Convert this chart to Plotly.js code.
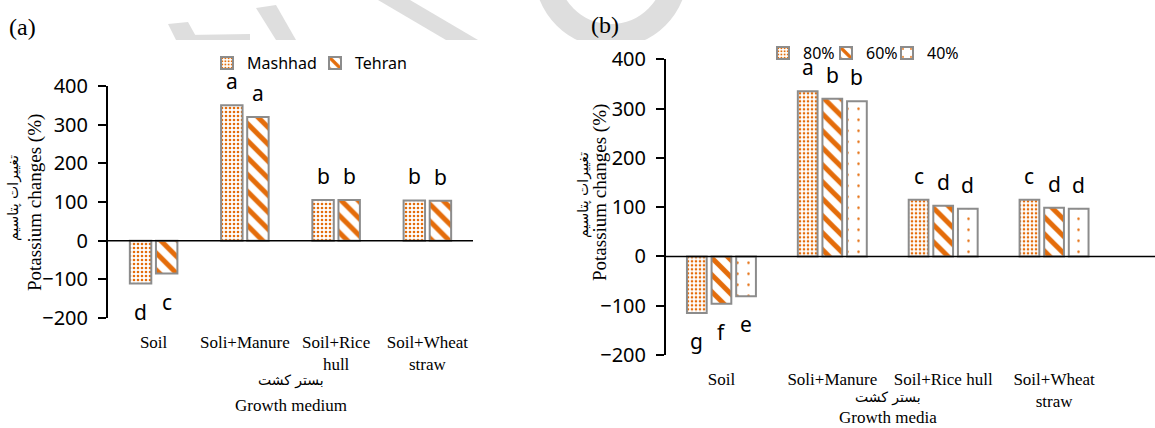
<!DOCTYPE html>
<html>
<head>
<meta charset="utf-8">
<script src="https://cdn.plot.ly/plotly-3.0.1.min.js"></script>
<style>html,body{margin:0;padding:0;background:#fff;}#chart{width:1155px;height:428px;}</style>
</head>
<body>
<div id="chart"></div>
<script>
// ---------- data ----------
const categoriesA = ['Soil', 'Soli+Manure', 'Soil+Rice<br>hull', 'Soil+Wheat<br>straw'];
const categoriesB = ['Soil', 'Soli+Manure', 'Soil+Rice hull', 'Soil+Wheat<br>straw'];

const mashhad = [-111, 350, 105, 104];
const tehran  = [-85, 320, 105, 103];
const lettersMashhad = ['d', 'a', 'b', 'b'];
const lettersTehran  = ['c', 'a', 'b', 'b'];

const p80 = [-115, 335, 115, 115];
const p60 = [-96, 320, 103, 99];
const p40 = [-81, 315, 97, 97];
const letters80 = ['g', 'a', 'c', 'c'];
const letters60 = ['f', 'b', 'd', 'd'];
const letters40 = ['e', 'b', 'd', 'd'];

const yTicks = [-200, -100, 0, 100, 200, 300, 400];

// ---------- layout helpers ----------
const W = 1155, H = 428;
const px = x => x / W;
const py = y => 1 - y / H;
const ORANGE = '#E46C0A';
const EDGE = '#8c8c8c';
const serif = 'Liberation Serif, "Times New Roman", DejaVu Sans, serif';
const sans = '"Noto Sans", "Open Sans", sans-serif';
const arabic = 'DejaVu Sans, sans-serif';

const patDense = {shape: '.', size: 4, solidity: 0.34, fgcolor: ORANGE, bgcolor: '#ffffff', fgopacity: 1};
const patStripe = {shape: '\\', size: 12, solidity: 0.42, fgcolor: ORANGE, bgcolor: '#ffffff', fgopacity: 1};
const patSparse = {shape: '.', size: 11, solidity: 0.04, fgcolor: ORANGE, bgcolor: '#ffffff', fgopacity: 1};

function mkBar(name, cats, vals, pat, n, j, step, width, xa, ya, legend) {
  return {
    type: 'bar', name: name, x: cats, y: vals,
    xaxis: xa, yaxis: ya, legend: legend,
    width: width,
    offset: (j - (n - 1) / 2) * step - width / 2,
    marker: {color: '#ffffff', pattern: pat, line: {color: EDGE, width: 2}},
    hoverinfo: 'x+y'
  };
}

const stepA = 0.286, widthA = 0.235;
const stepB = 0.222, widthB = 0.178;

const traces = [
  mkBar('Mashhad', categoriesA, mashhad, patDense, 2, 0, stepA, widthA, 'x', 'y', 'legend'),
  mkBar('Tehran', categoriesA, tehran, patStripe, 2, 1, stepA, widthA, 'x', 'y', 'legend2'),
  mkBar('80%', categoriesB, p80, patDense, 3, 0, stepB, widthB, 'x2', 'y2', 'legend3'),
  mkBar('60%', categoriesB, p60, patStripe, 3, 1, stepB, widthB, 'x2', 'y2', 'legend4'),
  mkBar('40%', categoriesB, p40, patSparse, 3, 2, stepB, widthB, 'x2', 'y2', 'legend5')
];

// ---------- letter annotations ----------
const annotations = [];
function addLetters(vals, letters, n, j, step, xref, yref) {
  vals.forEach((v, i) => {
    annotations.push({
      x: i + (j - (n - 1) / 2) * step, y: v, xref: xref, yref: yref,
      text: letters[i], showarrow: false,
      yanchor: 'middle', yshift: v >= 0 ? 24 : -28,
      font: {family: sans, size: 21, color: '#000'}
    });
  });
}
addLetters(mashhad, lettersMashhad, 2, 0, stepA, 'x', 'y');
addLetters(tehran, lettersTehran, 2, 1, stepA, 'x', 'y');
addLetters(p80, letters80, 3, 0, stepB, 'x2', 'y2');
addLetters(p60, letters60, 3, 1, stepB, 'x2', 'y2');
addLetters(p40, letters40, 3, 2, stepB, 'x2', 'y2');

// titles / panel labels
function txt(text, x, y, size, family, angle) {
  annotations.push({
    text: text, x: px(x), y: py(y), xref: 'paper', yref: 'paper',
    showarrow: false, xanchor: 'center', yanchor: 'middle',
    textangle: angle || 0, font: {family: family, size: size, color: '#000'}
  });
}
txt('(a)', 22, 27, 24, serif);
txt('(b)', 605, 25, 24, serif);
txt('Potassium changes (%)', 35, 203, 19, serif, -90);
txt('تغییرات پتاسیم', 13, 198, 14, arabic, -90);
txt('Potassium changes (%)', 600, 193, 19, serif, -90);
txt('تغییرات پتاسیم', 583, 195, 14, arabic, -90);
txt('بستر کشت', 291, 380, 14, arabic);
txt('Growth medium', 291, 405, 17, serif);
txt('بستر کشت', 888, 397, 14, arabic);
txt('Growth media', 888, 417, 17, serif);

// ---------- decorative watermark (light grey) ----------
const WM = '#dedede';
function poly(pts) {
  return {type: 'path', xref: 'paper', yref: 'paper', layer: 'below',
    path: 'M' + pts.map(p => px(p[0]) + ',' + py(p[1])).join('L') + 'Z',
    fillcolor: WM, line: {width: 0}};
}
const shapes = [
  {type: 'circle', xref: 'paper', yref: 'paper', layer: 'below',
   x0: px(546), x1: px(676), y0: py(36), y1: py(-94), line: {color: WM, width: 24}, fillcolor: 'rgba(0,0,0,0)'},
  {type: 'rect', xref: 'paper', yref: 'paper', layer: 'below',
   x0: 0, x1: 1, y0: 0, y1: py(40), fillcolor: '#ffffff', line: {width: 0}},
  poly([[168, 24], [188, 22], [198, 40], [176, 40]]),
  poly([[186, 35], [250, 34], [250, 40], [186, 40]]),
  poly([[256, 8], [276, 5], [296, 40], [276, 40]]),
  poly([[378, 0], [410, 0], [478, 40], [446, 40]]),
  // zero lines
  {type: 'line', xref: 'paper', yref: 'y', x0: px(108), x1: px(473), y0: 0, y1: 0, line: {color: '#000', width: 1.5}, layer: 'above'},
  {type: 'line', xref: 'paper', yref: 'y2', x0: px(666), x1: 1, y0: 0, y1: 0, line: {color: '#000', width: 1.5}, layer: 'above'}
];

const xaxisBase = {
  type: 'category', range: [-0.5, 3.5], showline: false, zeroline: false, showgrid: false,
  ticks: '', ticklabelstandoff: 12, tickfont: {family: serif, size: 17, color: '#000'}, fixedrange: true
};
const yaxisBase = {
  range: [-200, 400], tickvals: yTicks, showline: true, linecolor: '#000', linewidth: 2,
  ticks: 'outside', ticklen: 8, tickwidth: 1.5, tickcolor: '#000', showgrid: false, zeroline: false,
  ticklabelstandoff: 6, tickfont: {family: sans, size: 20, color: '#000'}, fixedrange: true
};

function leg(xText, yMid) {
  return {orientation: 'h', xanchor: 'left', yanchor: 'middle', bgcolor: 'rgba(0,0,0,0)',
    font: {family: sans, size: 16, color: '#000'}, itemclick: false, itemdoubleclick: false,
    x: px(xText - 39), y: py(yMid)};
}

const layout = {
  width: W, height: H, margin: {l: 0, r: 0, t: 0, b: 0},
  paper_bgcolor: '#fff', plot_bgcolor: 'rgba(0,0,0,0)',
  barmode: 'overlay', showlegend: true,
  xaxis: Object.assign({}, xaxisBase, {domain: [px(108), px(473)], anchor: 'y'}),
  yaxis: Object.assign({}, yaxisBase, {domain: [py(318), py(86)], anchor: 'x'}),
  xaxis2: Object.assign({}, xaxisBase, {domain: [px(666), px(1109.5)], anchor: 'y2'}),
  yaxis2: Object.assign({}, yaxisBase, {domain: [py(355), py(59.3)], anchor: 'x2'}),
  legend: leg(246, 63),
  legend2: leg(354, 63),
  legend3: leg(802, 53),
  legend4: leg(865, 53),
  legend5: leg(926, 53),
  annotations: annotations,
  shapes: shapes
};

Plotly.newPlot('chart', traces, layout, {displayModeBar: false});
</script>
</body>
</html>
